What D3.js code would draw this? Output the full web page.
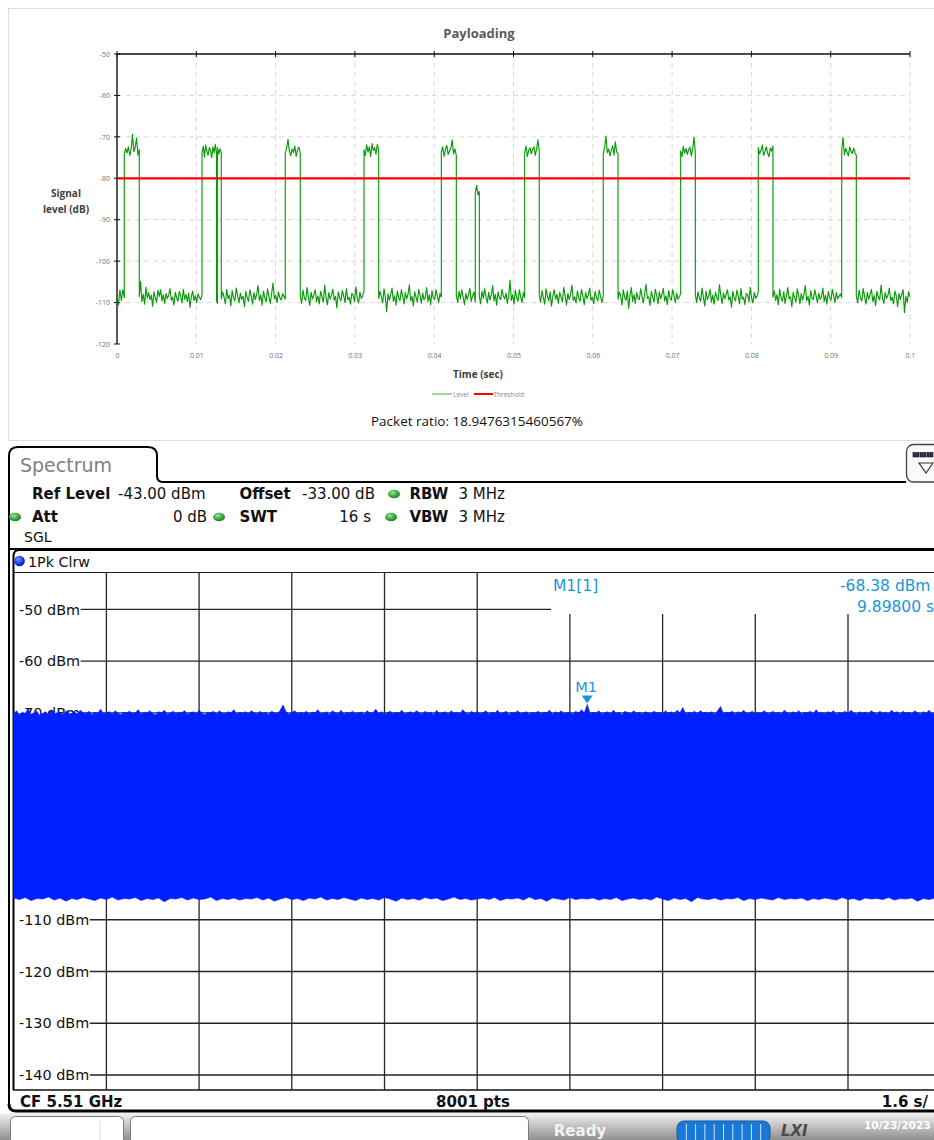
<!DOCTYPE html>
<html><head><meta charset="utf-8">
<script src="https://cdn.jsdelivr.net/npm/d3@7"></script>
<style>html,body{margin:0;padding:0;background:#fff;}svg{display:block;}</style>
</head><body>
<svg id="c" width="934" height="1140"></svg>
<script>
// ---------------- Top chart data ----------------
const chartTitle = "Payloading";
const yAxisTitle = ["Signal", "level (dB)"];
const xAxisTitle = "Time (sec)";
const timeTicks = [0, 0.01, 0.02, 0.03, 0.04, 0.05, 0.06, 0.07, 0.08, 0.09, 0.1];
const timeTickLabels = ["0", "0.01", "0.02", "0.03", "0.04", "0.05", "0.06", "0.07", "0.08", "0.09", "0.1"];
const levelTicks = [-50, -60, -70, -80, -90, -100, -110, -120];
const thresholdDb = -80;
const legendNames = ["Level", "Threshold"];
const packetRatioText = "Packet ratio: 18.9476315460567%";

// segment boundaries (s) of the measured Level trace
const segBounds = [0, 0.00092, 0.00281, 0.01072, 0.01255, 0.01267, 0.01315, 0.02122, 0.02311, 0.03115, 0.03300,
  0.04090, 0.04279, 0.04518, 0.04569, 0.05141, 0.05325, 0.06132, 0.06318, 0.07108, 0.07293, 0.08087, 0.08272,
  0.09139, 0.09323, 0.1];
// readings (dB) inside each segment
const seg00 = [-108.4,-110.6,-107.0,-109.5,-106.9,-108.8];
const seg01 = [-74.2,-72.8,-73.9,-72.4,-74.5,-73.1,-69.4,-73.6,-72.5,-70.3,-74.4,-73.0];
const seg02 = [-108.6,-104.9,-109.8,-108.0,-110.4,-106.3,-108.9,-107.6,-109.3,-108.2,-110.9,-107.4,-108.8,-109.9,-107.0,-108.5,-106.9,-109.6,-108.1,-110.2,-107.8,-109.0,-108.3,-106.6,-109.4,-108.7,-110.6,-107.5,-108.9,-109.7,-107.3,-108.4,-110.1,-106.8,-109.2,-108.0,-109.8,-107.7,-111.2,-108.6,-107.2,-109.5,-108.3,-110.0,-107.9,-108.7,-109.3,-108.1];
const seg03 = [-73.8,-72.3,-74.9,-72.0,-73.6,-74.4,-72.6,-73.2,-75.0,-72.4,-73.9,-71.8,-74.1];
const seg04 = [-109.6,-110.2];
const seg05 = [-72.6,-74.2,-72.9,-73.8];
const seg06 = [-109.1,-107.4,-108.7,-110.3,-106.8,-109.0,-108.2,-110.8,-107.1,-108.9,-109.6,-106.5,-108.3,-110.1,-107.7,-109.2,-108.5,-111.0,-107.3,-108.8,-109.7,-106.9,-108.4,-110.4,-107.6,-109.3,-108.0,-105.9,-109.5,-108.2,-110.6,-107.2,-108.9,-109.8,-106.7,-108.6,-110.2,-107.8,-105.3,-109.1,-108.3,-110.0,-107.4,-108.8,-109.4,-107.9,-108.5,-109.2];
const seg07 = [-74.0,-72.7,-70.6,-73.5,-74.6,-72.9,-73.8,-72.2,-74.7,-73.1,-72.5,-73.9];
const seg08 = [-108.3,-110.2,-107.0,-108.9,-109.5,-106.4,-108.7,-110.7,-107.5,-109.1,-108.2,-106.9,-109.8,-108.4,-110.3,-107.3,-108.6,-109.9,-105.8,-108.8,-110.5,-107.6,-109.2,-108.1,-106.8,-109.4,-108.5,-111.3,-107.4,-108.9,-109.6,-107.1,-108.3,-110.0,-106.6,-109.3,-108.7,-110.4,-107.8,-108.2,-109.7,-106.2,-108.9,-110.1,-107.5,-109.0,-108.4,-107.2];
const seg09 = [-73.1,-74.5,-71.9,-73.7,-72.4,-74.8,-71.6,-73.3,-72.6,-74.2,-71.8,-73.4];
const seg10 = [-109.0,-107.3,-108.6,-110.1,-106.7,-108.8,-112.2,-107.9,-109.4,-108.1,-106.5,-109.7,-108.3,-110.6,-107.2,-108.9,-109.5,-106.9,-108.4,-110.3,-107.6,-109.1,-108.0,-105.7,-109.6,-108.5,-110.8,-107.4,-108.7,-109.9,-106.8,-108.2,-110.2,-107.7,-109.3,-108.6,-106.4,-109.8,-108.1,-110.5,-107.1,-108.9,-109.2,-106.9,-108.5,-110.0,-107.8,-108.7];
const seg11 = [-73.6,-72.4,-74.7,-73.0,-72.1,-74.3,-73.4,-72.7,-70.8,-74.1,-72.9,-74.6];
const seg12 = [-108.2,-110.0,-107.3,-109.1,-106.9,-108.6,-110.5,-107.8,-109.3,-108.0,-106.6,-109.7,-108.4,-107.5,-109.9];
const seg13 = [-83.6,-81.7,-84.0,-83.2];
const seg14 = [-108.5,-110.3,-107.2,-109.0,-106.6,-108.7,-110.1,-107.5,-109.4,-108.2,-105.9,-109.6,-108.0,-110.6,-107.4,-108.8,-109.3,-106.8,-108.4,-109.1,-107.7,-110.2,-108.3,-104.6,-109.5,-108.1,-110.4,-107.0,-108.9,-109.7,-106.9,-108.6,-110.0,-107.6,-108.8];
const seg15 = [-73.9,-72.2,-74.8,-73.3,-72.6,-74.1,-73.0,-72.4,-74.5,-72.9,-70.7,-73.6];
const seg16 = [-108.2,-109.9,-107.1,-108.8,-110.4,-106.7,-108.5,-109.6,-107.4,-110.9,-108.3,-106.9,-109.2,-108.0,-110.2,-107.5,-108.7,-109.8,-106.3,-108.4,-110.6,-107.8,-109.3,-108.1,-105.8,-109.5,-108.6,-110.1,-107.2,-108.9,-109.7,-106.8,-108.3,-110.5,-107.6,-109.0,-108.2,-106.5,-109.4,-108.7,-110.3,-107.3,-108.8,-109.6,-107.0,-108.5,-110.0,-108.4];
const seg17 = [-74.3,-72.5,-69.8,-73.8,-72.9,-74.6,-73.2,-72.1,-74.4,-71.2,-73.7,-74.0];
const seg18 = [-109.2,-107.5,-108.4,-110.6,-106.9,-108.8,-109.5,-107.2,-111.4,-108.3,-106.4,-109.7,-108.1,-110.2,-107.6,-108.9,-109.3,-106.7,-108.5,-110.1,-107.8,-105.6,-109.0,-108.6,-110.7,-107.3,-108.7,-109.9,-106.8,-108.2,-110.3,-107.4,-109.1,-108.0,-106.6,-109.6,-108.4,-110.5,-107.1,-108.9,-109.4,-106.9,-108.3,-110.0,-107.7,-109.2,-108.6,-107.9];
const seg19 = [-73.4,-74.7,-72.3,-73.9,-72.8,-74.2,-73.1,-72.5,-74.6,-72.9,-70.1,-73.8];
const seg20 = [-108.1,-110.0,-107.4,-108.9,-109.7,-106.5,-108.6,-110.8,-107.2,-109.3,-108.4,-106.8,-109.9,-108.2,-110.4,-107.5,-108.7,-109.5,-105.7,-108.3,-110.2,-107.7,-109.1,-108.0,-106.9,-109.4,-108.6,-111.1,-107.3,-108.8,-109.6,-107.0,-108.4,-110.3,-106.6,-109.2,-108.7,-110.5,-107.8,-108.1,-109.8,-106.3,-108.9,-110.1,-107.6,-109.0,-108.5,-107.4];
const seg21 = [-72.6,-74.1,-73.3,-72.0,-74.5,-73.6,-72.4,-73.9,-74.8,-72.7,-73.4,-72.2];
const seg22 = [-108.7,-107.2,-109.5,-108.1,-110.5,-106.8,-108.9,-109.7,-107.4,-110.2,-108.3,-106.4,-109.1,-108.6,-111.0,-107.5,-108.8,-109.9,-106.7,-108.2,-110.3,-107.8,-109.4,-108.0,-105.9,-109.6,-108.5,-110.6,-107.1,-108.9,-109.3,-106.9,-108.4,-110.1,-107.7,-109.2,-108.6,-106.5,-109.8,-108.2,-110.4,-107.3,-108.7,-109.5,-106.8,-108.3,-110.0,-107.6,-109.1,-108.5,-107.9,-108.8];
const seg23 = [-73.2,-70.1,-74.3,-72.8,-73.7,-74.6,-72.4,-73.5,-74.0,-72.7,-73.9,-74.4];
const seg24 = [-108.4,-110.1,-107.0,-108.9,-109.6,-106.6,-108.5,-110.4,-107.5,-109.2,-108.1,-106.8,-109.8,-108.3,-110.7,-107.3,-108.6,-109.4,-105.8,-108.9,-110.2,-107.6,-109.0,-108.2,-106.5,-109.5,-108.7,-110.3,-107.2,-108.4,-111.0,-107.8,-109.3,-108.0,-106.9,-112.4,-108.5,-110.0,-107.4,-108.6];
const segReadings = [seg00,seg01,seg02,seg03,seg04,seg05,seg06,seg07,seg08,seg09,seg10,seg11,seg12,seg13,seg14,seg15,seg16,seg17,seg18,seg19,seg20,seg21,seg22,seg23,seg24];

// ---------------- Spectrum analyzer data ----------------
const specTitle = "Spectrum";
const refLevelDbm = -43;
const sweepTime = 16;
const specTimeDivs = [1.6, 3.2, 4.8, 6.4, 8.0, 9.6, 11.2, 12.8, 14.4];
const specLevelGrid = [-50, -60, -70, -80, -90, -100, -110, -120, -130, -140];
const specLevelLabels = [-50, -60, -70, -110, -120, -130, -140];
const markerTime = 9.898;
const markerLevel = -68.38;
// peak envelope of trace, every 0.05 s
const specPeakTop = [
-70.2,-69.6,-70.4,-69.9,-70.1,-69.2,-70.3,-70.0,-69.7,-70.5,-70.1,-69.8,-70.3,-69.4,-70.2,-70.0,-69.9,-70.4,-69.6,-70.2,
-70.1,-69.8,-70.3,-69.5,-70.0,-70.2,-69.7,-70.4,-69.9,-70.1,-69.3,-70.2,-70.0,-69.8,-70.3,-69.6,-70.1,-70.4,-69.9,-70.0,
-69.7,-70.2,-70.0,-69.4,-70.3,-69.9,-70.1,-69.6,-70.2,-70.4,-69.8,-70.0,-69.5,-70.3,-70.1,-69.7,-70.2,-69.9,-70.0,-69.6,
-70.3,-70.0,-69.8,-70.2,-69.5,-70.1,-70.4,-69.9,-70.0,-69.7,-70.3,-69.6,-70.1,-70.2,-69.8,-70.0,-69.4,-70.3,-69.9,-70.1,
-69.8,-70.2,-69.6,-70.0,-70.3,-69.7,-70.1,-69.9,-70.4,-69.7,-70.0,-70.2,-69.5,-68.5,-69.8,-70.3,-70.0,-69.6,-70.2,-69.9,
-70.1,-69.7,-70.3,-69.9,-70.0,-69.4,-70.2,-70.1,-69.8,-70.4,-69.6,-70.0,-70.2,-69.5,-70.3,-69.9,-70.1,-69.7,-70.2,-70.0,
-69.9,-70.3,-69.6,-70.1,-70.0,-69.3,-70.2,-69.8,-70.4,-70.0,-69.7,-70.2,-69.9,-70.1,-69.5,-70.3,-70.0,-69.8,-70.2,-69.6,
-70.0,-70.3,-69.7,-70.1,-69.9,-70.4,-69.5,-70.2,-70.0,-69.8,-70.3,-69.6,-70.1,-69.9,-70.2,-69.4,-70.0,-70.3,-69.7,-70.1,
-69.8,-70.2,-70.0,-69.6,-70.3,-69.9,-70.1,-69.5,-70.2,-70.0,-69.7,-70.4,-69.9,-70.1,-69.6,-70.2,-70.0,-69.8,-70.3,-69.9,
-70.1,-69.7,-70.2,-69.9,-70.0,-69.5,-70.3,-69.8,-70.1,-69.6,-70.2,-70.0,-69.9,-70.3,-69.7,-70.1,-69.4,-70.0,-68.4,-70.2,
-69.9,-70.1,-69.6,-70.3,-70.0,-69.8,-70.2,-69.5,-70.1,-69.9,-70.4,-69.7,-70.0,-70.2,-69.6,-70.1,-69.9,-70.3,-69.8,-70.0,
-70.2,-69.7,-70.0,-69.9,-70.3,-69.6,-70.1,-69.8,-70.2,-69.5,-70.0,-69.0,-70.3,-69.9,-70.1,-69.7,-70.2,-69.6,-70.0,-69.9,
-70.1,-69.8,-70.3,-69.6,-68.8,-70.2,-69.9,-70.0,-69.7,-70.3,-69.8,-70.1,-69.5,-70.2,-70.0,-69.7,-70.3,-69.9,-70.1,-69.6,
-70.0,-70.2,-69.7,-70.1,-69.9,-70.3,-69.5,-70.0,-70.2,-69.8,-70.1,-69.6,-70.3,-69.9,-70.0,-69.7,-70.2,-69.4,-70.1,-69.9,
-70.2,-69.8,-70.0,-69.6,-70.3,-69.9,-70.1,-69.7,-70.2,-69.5,-70.0,-70.3,-69.8,-70.1,-69.9,-70.2,-69.6,-70.0,-70.3,-69.7,
-70.1,-69.9,-70.2,-69.5,-70.0,-69.8,-70.3,-69.7,-70.1,-69.9,-70.2,-69.6,-70.0,-70.3,-69.8,-70.1,-69.5,-70.2,-70.0,-69.9,
-70.1];
// floor envelope of trace, every 0.1 s
const specFloor = [
-105.8,-106.1,-105.7,-106.3,-105.9,-106.0,-105.6,-106.2,-105.8,-106.4,-105.9,-106.1,-105.7,-106.0,-106.3,-105.8,-106.1,-105.6,-106.2,-105.9,
-106.0,-105.7,-106.3,-105.9,-106.1,-105.8,-106.5,-105.9,-106.0,-105.7,-106.2,-105.8,-106.1,-106.0,-105.6,-106.3,-105.9,-106.1,-105.8,-106.2,
-105.9,-106.0,-105.7,-106.2,-105.8,-106.4,-106.0,-105.7,-106.1,-105.9,-106.3,-105.8,-106.0,-105.6,-106.2,-105.9,-106.1,-105.7,-106.0,-106.3,
-105.8,-106.1,-105.9,-106.2,-105.7,-106.0,-106.4,-105.8,-106.1,-105.9,-106.2,-105.7,-106.0,-105.8,-106.3,-106.0,-105.6,-106.1,-105.9,-106.2,
-106.0,-105.8,-106.1,-105.7,-106.3,-105.9,-106.0,-105.8,-106.2,-105.6,-106.1,-105.9,-106.4,-105.8,-106.0,-106.2,-105.7,-106.1,-105.9,-106.0,
-105.8,-106.2,-105.9,-106.1,-105.7,-106.3,-106.0,-105.8,-106.1,-105.9,-106.2,-105.6,-106.0,-106.3,-105.8,-106.1,-105.9,-106.5,-105.7,-106.0,
-106.1,-105.8,-106.2,-105.9,-106.0,-105.7,-106.3,-105.9,-106.1,-105.8,-106.0,-106.2,-105.7,-106.1,-105.9,-106.0,-105.8,-106.3,-105.9,-106.1,
-105.8,-106.0,-106.2,-105.7,-106.1,-105.9,-106.3,-105.8,-106.0,-105.9,-106.1,-105.7,-106.2,-105.9,-106.0,-105.8,-106.4,-105.9,-106.1,-105.8,
-106.0];

// ---------------- drawing ----------------
const svg = d3.select("#c");
const OS = "'Open Sans', 'Noto Sans', sans-serif";
const DV = "'DejaVu Sans', sans-serif";

// ===== Top chart =====
svg.append("rect").attr("x", 8.5).attr("y", 8.5).attr("width", 950).attr("height", 432)
  .attr("fill", "#fff").attr("stroke", "#dedede").attr("stroke-width", 1);

const x = d3.scaleLinear().domain([0, 0.1]).range([117, 910]);
const y = d3.scaleLinear().domain([-120, -50]).range([344, 54]);

const grid = svg.append("g").attr("stroke", "#d9d9d9").attr("stroke-dasharray", "5,4").attr("stroke-width", 1);
timeTicks.slice(1).forEach(t => grid.append("line").attr("x1", x(t)).attr("x2", x(t)).attr("y1", y(-50)).attr("y2", y(-120)));
levelTicks.filter(v => v !== -50 && v !== -120).forEach(v => grid.append("line").attr("x1", x(0)).attr("x2", x(0.1)).attr("y1", y(v)).attr("y2", y(v)));

// axes lines + ticks
svg.append("line").attr("x1", x(0)).attr("x2", x(0.1)).attr("y1", y(-50)).attr("y2", y(-50)).attr("stroke", "#111").attr("stroke-width", 1.4);
svg.append("line").attr("x1", x(0)).attr("x2", x(0)).attr("y1", y(-50)).attr("y2", y(-120)).attr("stroke", "#111").attr("stroke-width", 1.4);
timeTicks.forEach(t => svg.append("line").attr("x1", x(t)).attr("x2", x(t)).attr("y1", y(-50) - 3).attr("y2", y(-50) + 3).attr("stroke", "#111").attr("stroke-width", 1));
levelTicks.forEach(v => svg.append("line").attr("x1", x(0) - 3).attr("x2", x(0) + 3).attr("y1", y(v)).attr("y2", y(v)).attr("stroke", "#111").attr("stroke-width", 1));

const yAx = svg.append("g").attr("transform", `translate(${x(0)},0)`)
  .call(d3.axisLeft(y).tickValues(levelTicks).tickSize(0).tickPadding(7).tickFormat(d => String(d)));
yAx.select(".domain").remove();
yAx.selectAll("text").attr("font-family", OS).attr("font-size", 7).attr("fill", "#707070");

const xAx = svg.append("g").attr("transform", `translate(0,${y(-120)})`)
  .call(d3.axisBottom(x).tickValues(timeTicks).tickSize(0).tickPadding(9).tickFormat((d, i) => timeTickLabels[i]));
xAx.select(".domain").remove();
xAx.selectAll("text").attr("font-family", OS).attr("font-size", 7).attr("fill", "#707070");

// Level line
const levelPts = [];
segReadings.forEach((vals, i) => {
  const t0 = segBounds[i], t1 = segBounds[i + 1], n = vals.length;
  vals.forEach((v, j) => levelPts.push([t0 + (t1 - t0) * (n > 1 ? j / (n - 1) : 0.5), v]));
});
svg.append("path").attr("d", d3.line().x(d => x(d[0])).y(d => y(d[1]))(levelPts))
  .attr("fill", "none").attr("stroke", "#0a9a0a").attr("stroke-width", 1.15).attr("stroke-linejoin", "round");

// Threshold
svg.append("line").attr("x1", x(0)).attr("x2", x(0.1)).attr("y1", y(thresholdDb)).attr("y2", y(thresholdDb))
  .attr("stroke", "#ff0000").attr("stroke-width", 2.2);

// titles
svg.append("text").attr("x", 479).attr("y", 38).attr("text-anchor", "middle").attr("font-family", OS)
  .attr("font-size", 13).attr("font-weight", "bold").attr("fill", "#595959").text(chartTitle);
yAxisTitle.forEach((s, i) => svg.append("text").attr("x", 66).attr("y", 197 + i * 16).attr("text-anchor", "middle")
  .attr("font-family", OS).attr("font-size", 10).attr("font-weight", "bold").attr("fill", "#404040").text(s));
svg.append("text").attr("x", 478).attr("y", 378).attr("text-anchor", "middle").attr("font-family", OS)
  .attr("font-size", 10).attr("font-weight", "bold").attr("fill", "#404040").text(xAxisTitle);

// legend
const lg = svg.append("g");
lg.append("line").attr("x1", 432).attr("x2", 452).attr("y1", 394).attr("y2", 394).attr("stroke", "#2db52d").attr("stroke-width", 1);
lg.append("text").attr("x", 453).attr("y", 396.5).attr("font-family", OS).attr("font-size", 6.5).attr("fill", "#888").text(legendNames[0]);
lg.append("line").attr("x1", 474).attr("x2", 493).attr("y1", 394).attr("y2", 394).attr("stroke", "#ff0000").attr("stroke-width", 2);
lg.append("text").attr("x", 493.5).attr("y", 396.5).attr("font-family", OS).attr("font-size", 6.5).attr("fill", "#888").text(legendNames[1]);

svg.append("text").attr("x", 477).attr("y", 425.5).attr("text-anchor", "middle").attr("font-family", OS)
  .attr("font-size", 13.5).attr("fill", "#111").text(packetRatioText);

// ===== Spectrum analyzer =====
const sx = d3.scaleLinear().domain([0, sweepTime]).range([13.7, 940.7]);
const sy = d3.scaleLinear().domain([refLevelDbm - 100, refLevelDbm]).range([1090.5, 573.1]);

// outer frame + tab
svg.append("path").attr("d", "M9,1104 L9,456 Q9,447 18,447 L148,447 Q157,447 157,456 L157,476 Q157,482 163,482 L906,482")
  .attr("fill", "none").attr("stroke", "#000").attr("stroke-width", 2);
svg.append("path").attr("d", "M9,1104 Q9,1111 16,1111 L940,1111").attr("fill", "none").attr("stroke", "#000").attr("stroke-width", 3);
svg.append("text").attr("x", 20).attr("y", 472).attr("font-family", DV).attr("font-size", 19).attr("fill", "#808080").text(specTitle);

// top-right icon
svg.append("rect").attr("x", 906.5).attr("y", 444.5).attr("width", 40).attr("height", 37.5).attr("rx", 7)
  .attr("fill", "#fafafa").attr("stroke", "#444").attr("stroke-width", 1.3);
[0, 1, 2].forEach(i => svg.append("rect").attr("x", 913 + i * 7).attr("y", 452.5).attr("width", 6).attr("height", 4.5)
  .attr("fill", "#2a3550").attr("stroke", "#111").attr("stroke-width", 0.6));
svg.append("path").attr("d", "M919,463 L933,463 L926,473 Z").attr("fill", "#fff").attr("stroke", "#333").attr("stroke-width", 1.2);

// header info
const defs = svg.append("defs");
const gg = defs.append("radialGradient").attr("id", "gdot").attr("cx", "40%").attr("cy", "35%").attr("r", "70%");
gg.append("stop").attr("offset", "0%").attr("stop-color", "#9be39b");
gg.append("stop").attr("offset", "60%").attr("stop-color", "#3aa33a");
gg.append("stop").attr("offset", "100%").attr("stop-color", "#1f7a1f");
const bg = defs.append("radialGradient").attr("id", "bdot").attr("cx", "40%").attr("cy", "35%").attr("r", "70%");
bg.append("stop").attr("offset", "0%").attr("stop-color", "#7f9bff");
bg.append("stop").attr("offset", "55%").attr("stop-color", "#1a3cff");
bg.append("stop").attr("offset", "100%").attr("stop-color", "#0010a0");

const hdr = [
  {t: "Ref Level", x: 32, y: 498.5, b: true}, {t: "-43.00 dBm", x: 118, y: 498.5},
  {t: "Offset", x: 239.5, y: 498.5, b: true}, {t: "-33.00 dB", x: 302, y: 498.5},
  {t: "RBW", x: 409.5, y: 498.5, b: true}, {t: "3 MHz", x: 458.5, y: 498.5},
  {t: "Att", x: 32, y: 521.5, b: true}, {t: "0 dB", x: 207, y: 521.5, end: true},
  {t: "SWT", x: 239.5, y: 521.5, b: true}, {t: "16 s", x: 371, y: 521.5, end: true},
  {t: "VBW", x: 409.5, y: 521.5, b: true}, {t: "3 MHz", x: 458.5, y: 521.5}
];
hdr.forEach(h => svg.append("text").attr("x", h.x).attr("y", h.y).attr("font-family", DV).attr("font-size", 15)
  .attr("font-weight", h.b ? "bold" : "normal").attr("text-anchor", h.end ? "end" : "start").attr("fill", "#111").text(h.t));
[[394, 494], [15, 517], [219, 517], [391, 517]].forEach(p => svg.append("ellipse").attr("cx", p[0]).attr("cy", p[1])
  .attr("rx", 6).attr("ry", 4.3).attr("fill", "url(#gdot)"));
svg.append("text").attr("x", 24).attr("y", 541.5).attr("font-family", DV).attr("font-size", 14).attr("fill", "#111").text("SGL");

svg.append("line").attr("x1", 9).attr("x2", 940).attr("y1", 549).attr("y2", 549).attr("stroke", "#000").attr("stroke-width", 2);
svg.append("path").attr("d", "M13.5,1090 L13.5,556 Q13.5,550 19.5,550 L940,550").attr("fill", "none").attr("stroke", "#000").attr("stroke-width", 2);
svg.append("line").attr("x1", 14).attr("x2", 940).attr("y1", 572.5).attr("y2", 572.5).attr("stroke", "#222").attr("stroke-width", 1);
svg.append("circle").attr("cx", 19.5).attr("cy", 561).attr("r", 5.3).attr("fill", "url(#bdot)");
svg.append("text").attr("x", 28).attr("y", 566.5).attr("font-family", DV).attr("font-size", 14.3).attr("fill", "#111").text("1Pk Clrw");

// grid
const sg = svg.append("g").attr("stroke", "#262626").attr("stroke-width", 1.3);
specTimeDivs.forEach(t => sg.append("line").attr("x1", sx(t)).attr("x2", sx(t))
  .attr("y1", sx(t) > 551 ? 614 : 573).attr("y2", 1090));
const labG = svg.append("g");
specLevelGrid.forEach(v => {
  let x1 = 14;
  if (specLevelLabels.includes(v)) {
    const tx = labG.append("text").attr("x", 19).attr("y", sy(v) + 5.2).attr("font-family", DV).attr("font-size", 14.4)
      .attr("fill", "#111").text(v + " dBm");
    x1 = 19 + tx.node().getComputedTextLength() + 0.5;
  }
  sg.append("line").attr("x1", x1).attr("x2", v === -50 ? 551 : 940).attr("y1", sy(v)).attr("y2", sy(v));
});
svg.append("line").attr("x1", 13).attr("x2", 940).attr("y1", 1090).attr("y2", 1090).attr("stroke", "#111").attr("stroke-width", 1.6);

// trace (area between peak envelope and floor envelope)
const topPts = specPeakTop.map((v, i) => [i * sweepTime / (specPeakTop.length - 1), v]);
const botPts = specFloor.map((v, i) => [i * sweepTime / (specFloor.length - 1), v]).reverse();
svg.append("path").attr("d", d3.line().x(d => sx(d[0])).y(d => sy(d[1]))(topPts.concat(botPts)) + "Z")
  .attr("fill", "#0020ff").attr("stroke", "#0020ff").attr("stroke-width", 0.6);

// marker
const mc = "#1a96dc";
const mx = sx(markerTime), my = sy(markerLevel);
svg.append("path").attr("d", `M${mx - 5.5},${my - 9} L${mx + 5.5},${my - 9} L${mx},${my - 1} Z`).attr("fill", mc);
svg.append("text").attr("x", mx - 12).attr("y", 692).attr("font-family", DV).attr("font-size", 14.5).attr("fill", mc).text("M1");
svg.append("text").attr("x", 553).attr("y", 591).attr("font-family", DV).attr("font-size", 15.5).attr("fill", mc).text("M1[1]");
svg.append("text").attr("x", 840).attr("y", 591).attr("font-family", DV).attr("font-size", 15.5).attr("fill", mc).text(markerLevel.toFixed(2) + " dBm");
svg.append("text").attr("x", 857).attr("y", 612).attr("font-family", DV).attr("font-size", 15.5).attr("fill", mc).text(markerTime.toFixed(5) + " s");

// bottom info
svg.append("text").attr("x", 20).attr("y", 1106.5).attr("font-family", DV).attr("font-size", 15).attr("font-weight", "bold").attr("fill", "#111").text("CF 5.51 GHz");
svg.append("text").attr("x", 473).attr("y", 1106.5).attr("text-anchor", "middle").attr("font-family", DV).attr("font-size", 15).attr("font-weight", "bold").attr("fill", "#111").text("8001 pts");
svg.append("text").attr("x", 928).attr("y", 1106.5).attr("text-anchor", "end").attr("font-family", DV).attr("font-size", 15).attr("font-weight", "bold").attr("fill", "#111").text((sweepTime / 10) + " s/");

// status bar
const sgd = defs.append("linearGradient").attr("id", "sbar").attr("x1", 0).attr("x2", 0).attr("y1", 0).attr("y2", 1);
sgd.append("stop").attr("offset", "0%").attr("stop-color", "#f2f2f2");
sgd.append("stop").attr("offset", "100%").attr("stop-color", "#8f8f8f");
svg.append("rect").attr("x", 0).attr("y", 1113).attr("width", 934).attr("height", 27).attr("fill", "url(#sbar)");
svg.append("rect").attr("x", 10.5).attr("y", 1116.5).attr("width", 113).attr("height", 30).attr("rx", 5).attr("fill", "#fff").attr("stroke", "#7a7a7a");
svg.append("line").attr("x1", 100).attr("x2", 100).attr("y1", 1121).attr("y2", 1140).attr("stroke", "#ddd");
svg.append("rect").attr("x", 130.5).attr("y", 1116.5).attr("width", 398).attr("height", 30).attr("rx", 5).attr("fill", "#fff").attr("stroke", "#7a7a7a");
svg.append("text").attr("x", 580).attr("y", 1136).attr("text-anchor", "middle").attr("font-family", DV).attr("font-size", 15).attr("font-weight", "bold").attr("fill", "#f3f3f3").text("Ready");
svg.append("rect").attr("x", 677).attr("y", 1121).attr("width", 93).attr("height", 22).attr("rx", 7).attr("fill", "#1a78d6").attr("stroke", "#0d5aa8");
for (let i = 1; i < 10; i++) svg.append("line").attr("x1", 677 + i * 9.3).attr("x2", 677 + i * 9.3).attr("y1", 1124).attr("y2", 1140).attr("stroke", "#cfe4ff").attr("stroke-width", 1);
svg.append("text").attr("x", 781).attr("y", 1136).attr("font-family", DV).attr("font-size", 15).attr("font-weight", "bold").attr("font-style", "italic").attr("fill", "#4a4a4a").text("LXI");
svg.append("text").attr("x", 864).attr("y", 1129).attr("font-family", DV).attr("font-size", 10.6).attr("font-weight", "bold").attr("fill", "#fff").text("10/23/2023");
</script>
</body></html>
